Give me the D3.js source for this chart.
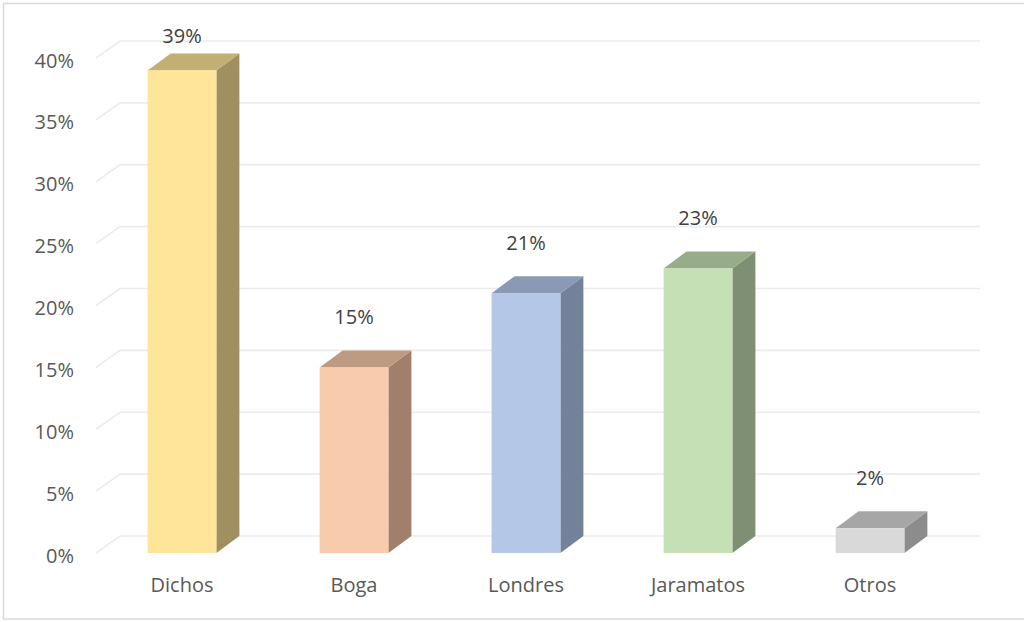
<!DOCTYPE html>
<html>
<head>
<meta charset="utf-8">
<script src="https://cdn.jsdelivr.net/npm/d3@7"></script>
<style>
  html, body { margin: 0; padding: 0; background: #fff; }
  svg { display: block; }
  text { font-family: "Open Sans", "Noto Sans", sans-serif; fill: #595959; }
</style>
</head>
<body>
<svg id="chart" width="1024" height="622"></svg>
<script>
// Share of responses per category
const categories = ["Dichos", "Boga", "Londres", "Jaramatos", "Otros"];
const values = [0.39, 0.15, 0.21, 0.23, 0.02];
const tickValues = [0, 0.05, 0.10, 0.15, 0.20, 0.25, 0.30, 0.35, 0.40];

// face colours: front, top, side
const frontColors = ["#FEE599", "#F8CBAD", "#B4C7E7", "#C5E0B4", "#D9D9D9"];
const topColors   = ["#C1AF73", "#BF9A82", "#8A9AB6", "#97AD8A", "#A6A6A6"];
const sideColors  = ["#A08F5F", "#A1806B", "#738299", "#7E8F73", "#8C8C8C"];

const fontSize = 20;
const svg = d3.select("#chart");

// outer frame
svg.append("rect")
  .attr("x", 3.5).attr("y", 3.5)
  .attr("width", 1030).attr("height", 615.5)
  .attr("fill", "none").attr("stroke", "#d9d9d9").attr("stroke-width", 1.5);

const x = d3.scaleBand().domain(categories).range([96, 956]).paddingInner(0.6).paddingOuter(0.3);
const y = d3.scaleLinear().domain([0, 0.4]).range([553, 58]);

// oblique depth offset of the 3D box
const dx = 23, dy = -17;
const wallDx = 24, wallDy = -17;
const wallRight = 980;

// gridlines on floor edge + back wall
const grid = svg.append("g");
tickValues.forEach(t => {
  const yy = y(t);
  grid.append("path")
    .attr("d", `M${x.range()[0]},${yy} L${x.range()[0] + wallDx},${yy + wallDy} L${wallRight},${yy + wallDy}`)
    .attr("fill", "none").attr("stroke", "#ebebeb").attr("stroke-width", 1.6);
});

// y tick labels
svg.append("g").selectAll("text")
  .data(tickValues).join("text")
  .attr("x", 74).attr("y", d => y(d) + 9.5)
  .attr("text-anchor", "end")
  .attr("font-size", fontSize)
  .text(d => d3.format(".0%")(d));

// bars
const bw = x.bandwidth();
const bars = svg.append("g").selectAll("g")
  .data(categories).join("g");

bars.append("path") // side face
  .attr("d", (c, i) => {
    const x1 = x(c) + bw, yt = y(values[i]), yb = y(0);
    return `M${x1},${yt} L${x1 + dx},${yt + dy} L${x1 + dx},${yb + dy} L${x1},${yb} Z`;
  })
  .attr("fill", (c, i) => sideColors[i]);

bars.append("path") // top face
  .attr("d", (c, i) => {
    const x0 = x(c), x1 = x0 + bw, yt = y(values[i]);
    return `M${x0},${yt} L${x0 + dx},${yt + dy} L${x1 + dx},${yt + dy} L${x1},${yt} Z`;
  })
  .attr("fill", (c, i) => topColors[i]);

bars.append("rect") // front face
  .attr("x", c => x(c))
  .attr("y", (c, i) => y(values[i]))
  .attr("width", bw)
  .attr("height", (c, i) => y(0) - y(values[i]))
  .attr("fill", (c, i) => frontColors[i]);

// value labels
bars.append("text")
  .attr("x", c => x(c) + bw / 2)
  .attr("y", (c, i) => Math.max(43, y(values[i]) - 43))
  .attr("text-anchor", "middle")
  .attr("font-size", fontSize)
  .style("fill", "#404040")
  .text((c, i) => d3.format(".0%")(values[i]));

// category labels
svg.append("g").selectAll("text")
  .data(categories).join("text")
  .attr("x", c => x(c) + bw / 2)
  .attr("y", 592)
  .attr("text-anchor", "middle")
  .attr("font-size", fontSize)
  .text(c => c);
</script>
</body>
</html>
